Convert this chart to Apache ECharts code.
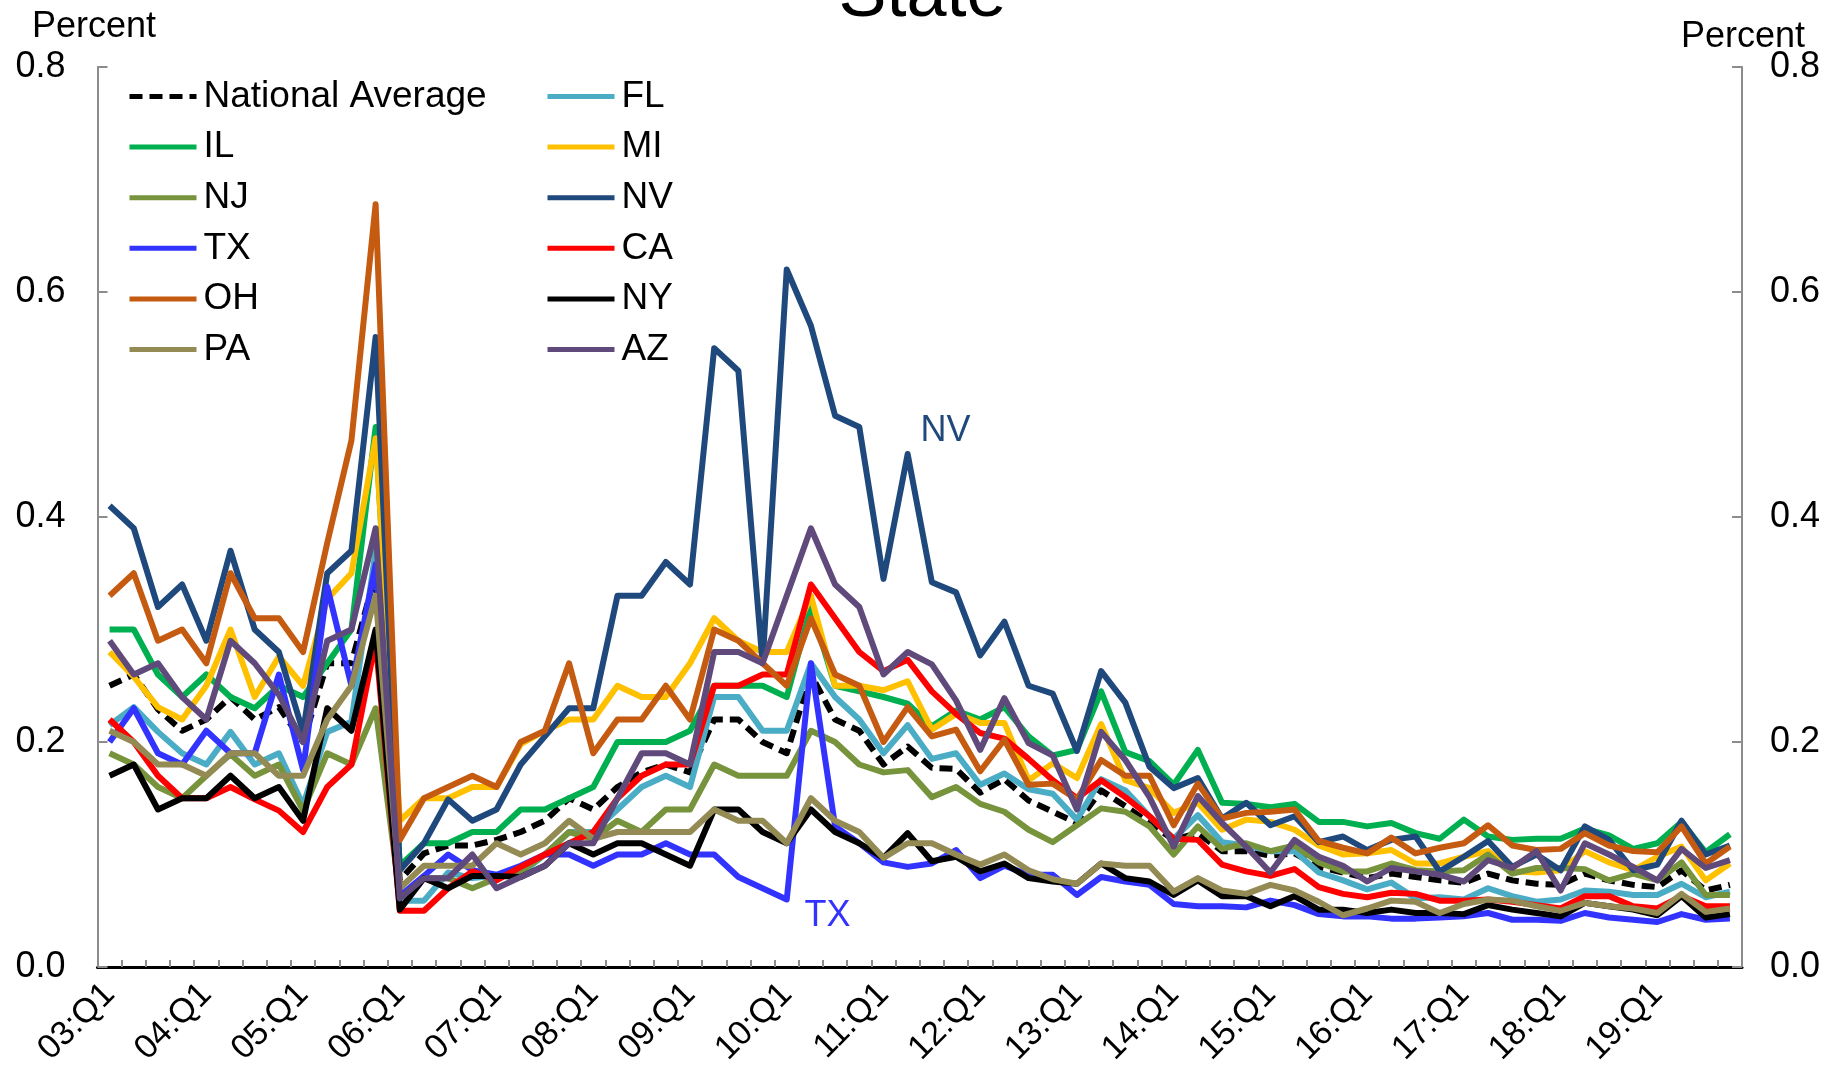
<!DOCTYPE html>
<html>
<head>
<meta charset="utf-8">
<script src="https://cdn.jsdelivr.net/npm/echarts@6/dist/echarts.min.js"></script>
<style>
html,body{margin:0;padding:0;background:#fff;}
#chart{width:1845px;height:1089px;}
</style>
</head>
<body>
<div id="chart"></div>
<script>
// Quarter labels 03:Q1 .. 19:Q4
const categories = [];
for (let y = 3; y <= 19; y++) {
  for (let q = 1; q <= 4; q++) {
    categories.push((y < 10 ? '0' + y : '' + y) + ':Q' + q);
  }
}
const yTicks = [0, 0.2, 0.4, 0.6, 0.8];

const nationalAverage = [0.25,0.26,0.229,0.21,0.22,0.24,0.22,0.231,0.20,0.27,0.27,0.35,
  0.077,0.101,0.108,0.108,0.113,0.12,0.13,0.15,0.14,0.16,0.173,0.18,0.173,0.22,0.22,0.20,0.19,0.26,0.22,0.21,
  0.18,0.196,0.177,0.176,0.155,0.167,0.148,0.138,0.128,0.157,0.143,0.128,0.113,0.119,0.103,0.103,0.099,0.101,
  0.089,0.084,0.079,0.083,0.08,0.077,0.075,0.083,0.077,0.074,0.073,0.083,0.077,0.073,0.071,0.086,0.068,0.073];
const FL = [0.215,0.231,0.209,0.19,0.18,0.209,0.18,0.19,0.144,0.209,0.218,0.37,
  0.059,0.059,0.084,0.079,0.081,0.083,0.10,0.12,0.12,0.14,0.16,0.17,0.16,0.24,0.24,0.21,0.21,0.27,0.24,0.22,
  0.19,0.215,0.185,0.19,0.162,0.172,0.158,0.154,0.131,0.167,0.157,0.134,0.114,0.135,0.111,0.108,0.103,0.103,
  0.084,0.077,0.069,0.075,0.061,0.062,0.06,0.07,0.063,0.058,0.06,0.068,0.067,0.064,0.064,0.074,0.062,0.067];
const IL = [0.30,0.30,0.26,0.24,0.26,0.24,0.23,0.25,0.24,0.27,0.30,0.48,
  0.09,0.11,0.11,0.12,0.12,0.14,0.14,0.15,0.16,0.20,0.20,0.20,0.21,0.25,0.25,0.25,0.24,0.32,0.25,0.245,
  0.24,0.234,0.214,0.228,0.22,0.231,0.205,0.188,0.193,0.245,0.191,0.183,0.162,0.193,0.146,0.145,0.142,0.145,
  0.129,0.129,0.125,0.128,0.119,0.114,0.131,0.116,0.113,0.114,0.114,0.123,0.117,0.105,0.11,0.129,0.102,0.118];
const MI = [0.28,0.258,0.231,0.22,0.25,0.30,0.24,0.276,0.25,0.327,0.35,0.47,
  0.13,0.15,0.15,0.16,0.16,0.198,0.21,0.22,0.22,0.25,0.24,0.24,0.27,0.31,0.29,0.28,0.28,0.33,0.25,0.25,
  0.246,0.254,0.211,0.225,0.217,0.217,0.166,0.181,0.168,0.216,0.166,0.159,0.137,0.146,0.122,0.131,0.129,0.122,
  0.108,0.10,0.101,0.104,0.092,0.092,0.098,0.103,0.085,0.084,0.086,0.103,0.093,0.086,0.098,0.107,0.077,0.092];
const NJ = [0.19,0.18,0.16,0.15,0.17,0.189,0.17,0.18,0.139,0.19,0.18,0.23,
  0.063,0.079,0.079,0.07,0.079,0.085,0.10,0.12,0.114,0.13,0.12,0.14,0.14,0.18,0.17,0.17,0.17,0.21,0.20,0.18,
  0.173,0.175,0.151,0.16,0.145,0.138,0.122,0.111,0.126,0.141,0.138,0.125,0.10,0.125,0.105,0.11,0.103,0.108,
  0.093,0.085,0.085,0.092,0.086,0.085,0.086,0.10,0.083,0.088,0.088,0.087,0.077,0.083,0.077,0.093,0.064,0.064];
const NV = [0.41,0.39,0.32,0.34,0.29,0.37,0.30,0.28,0.209,0.35,0.37,0.56,
  0.086,0.11,0.149,0.13,0.14,0.18,0.205,0.23,0.23,0.33,0.33,0.36,0.34,0.55,0.53,0.27,0.62,0.57,0.49,0.48,
  0.345,0.456,0.342,0.333,0.277,0.307,0.25,0.243,0.192,0.263,0.235,0.178,0.159,0.168,0.132,0.146,0.126,0.134,
  0.111,0.116,0.104,0.113,0.116,0.085,0.098,0.112,0.089,0.10,0.086,0.125,0.113,0.086,0.091,0.13,0.10,0.108];
const TX = [0.20,0.23,0.19,0.18,0.21,0.19,0.19,0.26,0.175,0.338,0.25,0.358,
  0.063,0.081,0.10,0.086,0.082,0.09,0.10,0.10,0.09,0.10,0.10,0.11,0.10,0.10,0.08,0.07,0.06,0.27,0.125,0.11,
  0.093,0.089,0.092,0.104,0.079,0.09,0.082,0.082,0.064,0.08,0.076,0.073,0.056,0.054,0.054,0.053,0.059,0.055,
  0.047,0.045,0.045,0.043,0.043,0.044,0.045,0.048,0.042,0.042,0.041,0.048,0.044,0.042,0.04,0.047,0.042,0.043];
const CA = [0.22,0.20,0.17,0.15,0.15,0.16,0.149,0.139,0.12,0.16,0.18,0.29,
  0.05,0.05,0.07,0.085,0.077,0.089,0.10,0.11,0.12,0.15,0.17,0.18,0.18,0.25,0.25,0.26,0.26,0.34,0.31,0.28,
  0.263,0.273,0.245,0.225,0.208,0.203,0.185,0.166,0.15,0.166,0.151,0.134,0.114,0.113,0.091,0.085,0.081,0.087,
  0.071,0.065,0.062,0.066,0.065,0.059,0.059,0.06,0.058,0.055,0.052,0.063,0.063,0.054,0.052,0.063,0.054,0.054];
const OH = [0.33,0.35,0.29,0.30,0.27,0.35,0.31,0.31,0.28,0.377,0.468,0.678,
  0.113,0.15,0.16,0.17,0.16,0.20,0.21,0.27,0.19,0.22,0.22,0.25,0.22,0.30,0.29,0.27,0.25,0.31,0.26,0.25,
  0.20,0.231,0.205,0.211,0.174,0.202,0.162,0.163,0.149,0.184,0.17,0.17,0.126,0.163,0.132,0.137,0.138,0.14,
  0.112,0.106,0.101,0.115,0.101,0.106,0.11,0.126,0.108,0.104,0.105,0.119,0.108,0.103,0.102,0.125,0.092,0.107];
const NY = [0.17,0.18,0.14,0.15,0.15,0.17,0.15,0.16,0.13,0.23,0.21,0.30,
  0.051,0.079,0.07,0.081,0.081,0.08,0.09,0.11,0.10,0.11,0.11,0.10,0.09,0.14,0.14,0.12,0.11,0.14,0.12,0.11,
  0.097,0.119,0.094,0.098,0.085,0.092,0.079,0.076,0.074,0.092,0.079,0.076,0.064,0.077,0.063,0.063,0.054,0.063,
  0.051,0.051,0.048,0.051,0.048,0.048,0.047,0.055,0.051,0.048,0.045,0.057,0.054,0.051,0.046,0.063,0.044,0.047];
const PA = [0.21,0.20,0.18,0.18,0.17,0.19,0.19,0.17,0.17,0.22,0.25,0.33,
  0.07,0.09,0.09,0.09,0.11,0.10,0.11,0.13,0.114,0.12,0.12,0.12,0.12,0.14,0.13,0.13,0.11,0.15,0.13,0.12,
  0.097,0.11,0.11,0.10,0.091,0.10,0.086,0.078,0.074,0.092,0.09,0.09,0.067,0.079,0.068,0.065,0.073,0.068,
  0.058,0.046,0.052,0.059,0.058,0.048,0.056,0.06,0.059,0.054,0.05,0.057,0.054,0.052,0.048,0.065,0.049,0.052];
const AZ = [0.29,0.26,0.27,0.24,0.22,0.29,0.27,0.242,0.20,0.29,0.30,0.39,
  0.061,0.079,0.079,0.10,0.07,0.08,0.09,0.11,0.11,0.15,0.19,0.19,0.18,0.28,0.28,0.27,0.33,0.39,0.34,0.32,
  0.26,0.28,0.269,0.237,0.193,0.239,0.199,0.188,0.14,0.209,0.184,0.151,0.107,0.152,0.128,0.107,0.084,0.113,
  0.098,0.09,0.076,0.088,0.085,0.082,0.076,0.095,0.088,0.103,0.068,0.11,0.10,0.089,0.077,0.105,0.088,0.095];

const seriesDefs = [
  ['National Average', nationalAverage, '#000000', true],
  ['FL', FL, '#4BACC6'],
  ['IL', IL, '#00B050'],
  ['MI', MI, '#FFC000'],
  ['NJ', NJ, '#77933C'],
  ['NV', NV, '#1F497D'],
  ['TX', TX, '#3333FF'],
  ['CA', CA, '#FF0000'],
  ['OH', OH, '#C55A11'],
  ['NY', NY, '#000000'],
  ['PA', PA, '#948A54'],
  ['AZ', AZ, '#604A7B']
];

const FONT = '"Liberation Sans", Arial, sans-serif';
const chart = echarts.init(document.getElementById('chart'), null, {renderer: 'canvas'});

const series = seriesDefs.map(function (d) {
  return {
    name: d[0], type: 'line', data: d[1], symbol: 'none', showSymbol: false,
    xAxisIndex: 0, yAxisIndex: 0, animation: false,
    lineStyle: {color: d[2], width: 6, type: d[3] ? [13, 7] : 'solid', join: 'round', cap: 'butt'},
    emphasis: {disabled: true},
    itemStyle: {color: d[2]}
  };
});

const yAxisCommon = {
  type: 'value', min: yTicks[0], max: yTicks[yTicks.length - 1], interval: 0.2,
  splitLine: {show: false},
  axisLine: {show: true, lineStyle: {color: '#8c8c8c', width: 2}},
  axisTick: {show: true, inside: true, length: 10, lineStyle: {color: '#8c8c8c', width: 2}},
  axisLabel: {fontSize: 36, color: '#000', fontFamily: FONT, formatter: function (v) { return v.toFixed(1); }}
};

const legendCommon = {
  orient: 'vertical', top: 78, padding: 0, itemWidth: 67, itemHeight: 14, itemGap: 13.6,
  itemStyle: {opacity: 0},
  lineStyle: {width: 5},
  textStyle: {fontSize: 37, color: '#000', fontFamily: FONT, lineHeight: 36, padding: [0, 0, 0, 2]}
};

chart.setOption({
  backgroundColor: '#fff',
  animation: false,
  title: {
    text: 'State', left: 'center', top: -40, padding: 0,
    textStyle: {fontSize: 72, fontWeight: 'normal', color: '#000', fontFamily: FONT}
  },
  grid: {left: 97.5, right: 103, top: 67, bottom: 122, containLabel: false},
  legend: [
    Object.assign({}, legendCommon, {left: 127, data: ['National Average', 'IL', 'NJ', 'TX', 'OH', 'PA']}),
    Object.assign({}, legendCommon, {left: 545, data: ['FL', 'MI', 'NV', 'CA', 'NY', 'AZ']})
  ],
  xAxis: [{
    type: 'category', data: categories, boundaryGap: true, position: 'bottom',
    axisLine: {show: true, lineStyle: {color: '#8c8c8c', width: 2}},
    axisTick: {show: true, inside: true, length: 7, interval: 0, lineStyle: {color: '#8c8c8c', width: 2}},
    axisLabel: {interval: 3, rotate: 45, fontSize: 34, color: '#000', fontFamily: FONT, margin: 22},
    splitLine: {show: false}
  }, {
    type: 'category', data: categories, boundaryGap: true, position: 'top',
    axisLine: {show: true, lineStyle: {color: '#000', width: 3}},
    axisTick: {show: false}, axisLabel: {show: false}, splitLine: {show: false}
  }],
  yAxis: [
    Object.assign({}, yAxisCommon, {position: 'left', axisLabel: Object.assign({}, yAxisCommon.axisLabel, {margin: 32})}),
    Object.assign({}, yAxisCommon, {position: 'right', axisLabel: Object.assign({}, yAxisCommon.axisLabel, {margin: 28})})
  ],
  graphic: [
    {type: 'text', x: 94, y: 27, style: {text: 'Percent', fontSize: 36, fontFamily: FONT, fill: '#000', align: 'center', verticalAlign: 'middle'}},
    {type: 'text', x: 1743, y: 37, style: {text: 'Percent', fontSize: 36, fontFamily: FONT, fill: '#000', align: 'center', verticalAlign: 'middle'}},
    {type: 'text', x: 945.5, y: 431, style: {text: 'NV', fontSize: 36, fontFamily: FONT, fill: '#1F497D', align: 'center', verticalAlign: 'middle'}},
    {type: 'text', x: 827.5, y: 916, style: {text: 'TX', fontSize: 36, fontFamily: FONT, fill: '#3333FF', align: 'center', verticalAlign: 'middle'}}
  ],
  series: series
});
</script>
</body>
</html>
